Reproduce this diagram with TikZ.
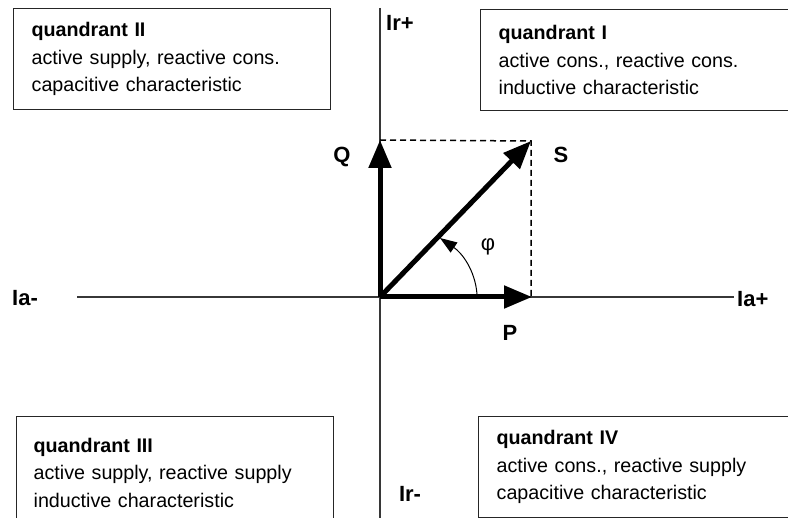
\documentclass[tikz,border=0pt]{standalone}
\usepackage{fontspec}
\setmainfont{Liberation Sans}
\usepackage{tikz}
\usetikzlibrary{arrows.meta, positioning}
\definecolor{axisgray}{RGB}{55,55,55}
\newcommand{\boxfont}{\fontsize{19.7pt}{27.5pt}\selectfont}
\newcommand{\lblfont}{\fontsize{22pt}{24pt}\selectfont\bfseries}

\begin{document}
\begin{tikzpicture}[
        x=1pt, y=-1pt,
        quadbox/.style={draw=black!85, line width=1.3pt, anchor=north west, align=left,
                        inner xsep=18pt, minimum height=101pt, font=\boxfont},
        axislbl/.style={font=\lblfont, inner sep=0pt},
        axisline/.style={line width=1.3pt, draw=axisgray},
        vec/.style={line width=5pt, -{Triangle[length=28pt, width=22pt]}},
        guide/.style={line width=1.5pt, dash pattern=on 6pt off 4pt},
        anglearrow/.style={line width=1pt, -{Triangle[length=17pt, width=12pt]}},
      ]
      \useasboundingbox (0,0) rectangle (788,518);
      % quadrant boxes
      \node[quadbox, text width=281pt] (q2) at (13,8)
        {\textbf{quandrant II}\\active supply, reactive cons.\\capacitive characteristic};
      \node[quadbox, text width=284pt] (q1) at (480,9)
        {\textbf{quandrant I}\\active cons., reactive cons.\\inductive characteristic};
      \node[quadbox, text width=283pt, inner xsep=17pt, minimum height=112pt] (q3) at (16,416)
        {\textbf{quandrant III}\\active supply, reactive supply\\inductive characteristic};
      \node[quadbox, text width=286pt] (q4) at (478,416)
        {\textbf{quandrant IV}\\active cons., reactive supply\\capacitive characteristic};
      % axes
      \coordinate (O) at (380,297);
      \coordinate (xw) at (77,297);
      \coordinate (xe) at (734,297);
      \coordinate (yn) at (380,8);
      \coordinate (ys) at (380,520);
      \draw[axisline] (xw) -- (xe);
      \draw[axisline] (yn) -- (ys);
      \node[axislbl] (iam) at (25,298) {Ia-};
      \node[axislbl, anchor=west] (iap) at (737,299) {Ia+};
      \node[axislbl] (irp) at (400,23) {Ir+};
      \node[axislbl] (irm) at (410,494) {Ir-};
      % power vectors
      \coordinate (Qt) at (380,140);
      \coordinate (Pt) at (532,297);
      \coordinate (St) at (531,141);
      \draw[guide] (Qt) -- (St) -- (531,297);
      \draw[vec] (O) -- (Qt);
      \draw[vec] (O) -- (Pt);
      \draw[vec] (O) -- (St);
      \node[axislbl] (q) at (342,157) {Q};
      \node[axislbl] (s) at (561,155) {S};
      \node[axislbl] (p) at (510,333) {P};
      % angle
      \coordinate (phs) at (477,294);
      \coordinate (phe) at (440,238);
      \draw[anglearrow] (phs) .. controls (475,270) and (462,253) .. (phe);
      \node[font=\fontsize{22pt}{24pt}\selectfont, inner sep=0pt] (phi) at (488,247) {φ};
    \end{tikzpicture}
\end{document}
